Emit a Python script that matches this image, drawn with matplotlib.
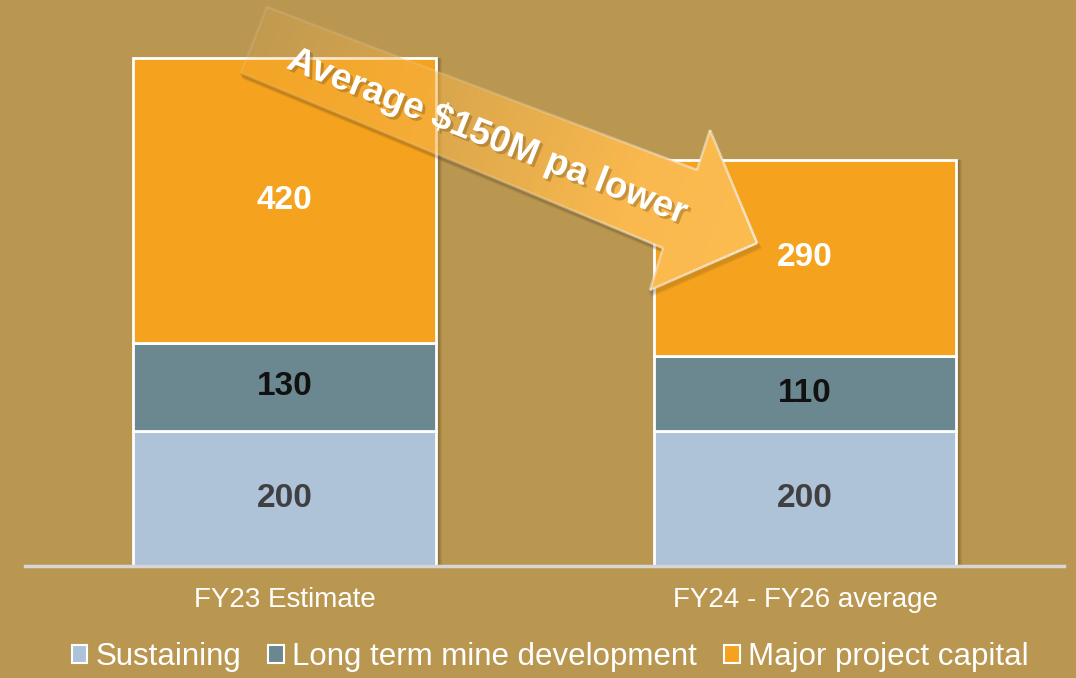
import numpy as np
import matplotlib.pyplot as plt
import matplotlib.patheffects as pe
from matplotlib.patches import Patch, Polygon
from matplotlib.collections import LineCollection

categories = ['FY23 Estimate', 'FY24 - FY26 average']
series = ['Sustaining', 'Long term mine development', 'Major project capital']
sustaining = [200, 200]
long_term = [130, 110]
major = [420, 290]
arrow_label = 'Average $150M pa lower'

colors = ['#AEC2D8', '#6B8890', '#F5A31F']
label_colors = ['#404040', '#111111', 'white']
bg = '#BA9751'

plt.rcParams['font.family'] = ['Liberation Sans', 'DejaVu Sans']

W, H = 1076, 678
fig = plt.figure(figsize=(W / 100, H / 100), dpi=100, facecolor=bg)
ax = fig.add_axes([25 / W, 112 / H, 1039 / W, 566 / H])
ax.patch.set_visible(False)

x = np.arange(len(categories))
width = 0.582
values = [sustaining, long_term, major]
total = np.sum(values, axis=0)

# soft drop shadow on the right side of the bars
px = 1 / 520.5
for k in range(1, 7):
    ax.bar(x + k * px, total, width, color='#2b1d08', alpha=0.08, linewidth=0, zorder=1)

bottom = np.zeros(len(categories))
for vals, col, tc in zip(values, colors, label_colors):
    vals = np.array(vals)
    ax.bar(x, vals, width, bottom=bottom, color=col, edgecolor='white', linewidth=2, zorder=2)
    for xi, b, v in zip(x, bottom, vals):
        ax.text(xi, b + v / 2, str(v), ha='center', va='center', fontsize=24,
                fontweight='bold', color=tc, zorder=3)
    bottom += vals

ax.axhline(0, color='#D6D6D6', lw=2.5, zorder=4, clip_on=False)
ax.set_xlim(-0.4986, 1.4976)
ax.set_ylim(0, 836)
for s in ax.spines.values():
    s.set_visible(False)
ax.set_yticks([])
ax.set_xticks(x, categories)
ax.tick_params(axis='x', length=0, pad=15, labelsize=20, labelcolor='white')

handles = [Patch(facecolor=c, edgecolor='white', linewidth=1.5) for c in colors]
fig.legend(handles, series, ncol=3, loc='center', bbox_to_anchor=(550 / W, 1 - 657 / H),
           frameon=False, fontsize=22.5, labelcolor='white', handlelength=0.5,
           handleheight=0.5, handletextpad=0.25, columnspacing=0.88)

# big arrow overlay in pixel coords (slight perspective: edges not parallel)
ov = fig.add_axes([0, 0, 1, 1], zorder=5)
ov.set_xlim(0, W)
ov.set_ylim(H, 0)
ov.axis('off')

pts = np.array([[267, 7], [697, 170], [710, 130], [757, 243],
                [650, 290], [663, 248], [241, 73]], dtype=float)

# shadow along the lower edges
low = pts[[3, 4, 5, 6]]
for k in range(1, 6):
    ov.plot(low[:, 0] + 0.6 * k, low[:, 1] + k, color='#2b1d08', alpha=0.07, lw=2,
            solid_joinstyle='miter', zorder=1)

ang = np.deg2rad(21.5)
d = np.array([np.cos(ang), np.sin(ang)])
tail = np.array([254.0, 40.0])
length = (pts[3] - tail) @ d
gx, gy = np.meshgrid(np.arange(W) + 0.5, np.arange(H) + 0.5)
t = np.clip(((gx - tail[0]) * d[0] + (gy - tail[1]) * d[1]) / length, 0, 1)
c0 = np.array([0xF0, 0xB0, 0x48]) / 255
c1 = np.array([0xFD, 0xBC, 0x50]) / 255
img = np.zeros((H, W, 4))
img[..., :3] = c0 + (c1 - c0) * t[..., None]
img[..., 3] = np.clip(0.15 + t * 1.15, 0, 1)
poly = Polygon(pts, closed=True, facecolor='none', edgecolor='none')
ov.add_patch(poly)
im = ov.imshow(img, extent=[0, W, H, 0], origin='upper', interpolation='bilinear', zorder=2)
im.set_clip_path(poly)

# outline fading out toward the tail
segs, alphas = [], []
for a, b in zip(pts, np.roll(pts, -1, axis=0)):
    s = np.linspace(0, 1, 41)
    p = a + (b - a) * s[:, None]
    for p0, p1 in zip(p[:-1], p[1:]):
        tm = np.clip((((p0 + p1) / 2 - tail) @ d) / length, 0, 1)
        segs.append([p0, p1])
        alphas.append(0.12 + 0.8 * tm ** 3)
rgba = np.zeros((len(segs), 4))
rgba[:, :3] = np.array([0xF2, 0xEE, 0xE6]) / 255
rgba[:, 3] = alphas
ov.add_collection(LineCollection(segs, colors=rgba, linewidths=1.8, zorder=3))

ov.text(487, 137, arrow_label, rotation=-21.5, rotation_mode='anchor', ha='center',
        va='center', fontsize=26.5, fontweight='bold', color='white', zorder=4,
        path_effects=[pe.withSimplePatchShadow(offset=(2, -2), shadow_rgbFace='#5a3d10', alpha=0.3)])
ov.set_xlim(0, W)
ov.set_ylim(H, 0)

fig.savefig('out.png', dpi=100, facecolor=bg)
